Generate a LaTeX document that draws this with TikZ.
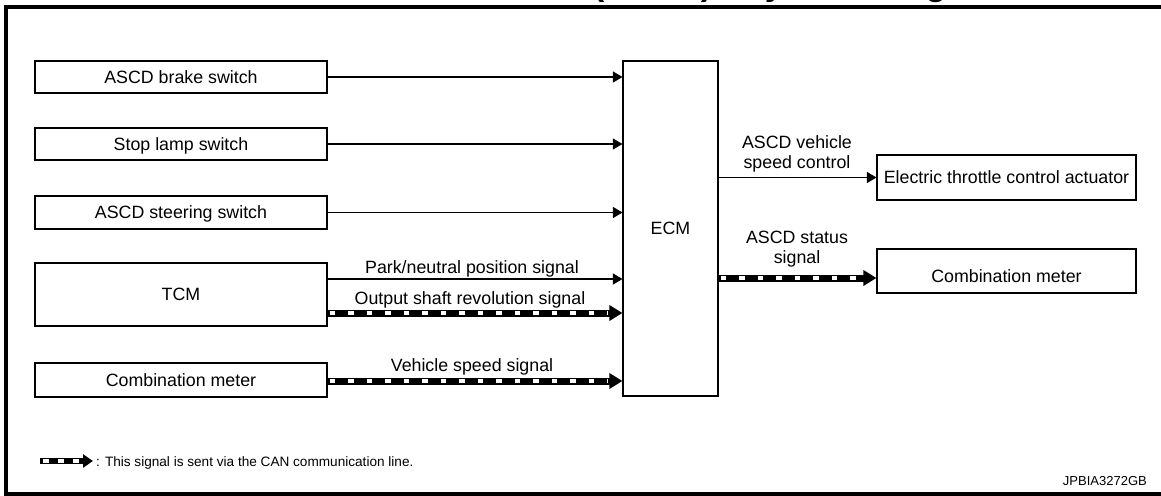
\documentclass[tikz,border=0pt]{standalone}
\usepackage{fontspec}
\setmainfont{Liberation Sans}
\usetikzlibrary{arrows.meta}
\begin{document}
\begin{tikzpicture}[x=1pt,y=-1pt,
  box/.style={draw, line width=1.1pt, rectangle, inner sep=0pt,
    font=\fontsize{17.8}{20}\selectfont, text height=12.8pt, text depth=0pt},
  lbl/.style={inner sep=0pt, font=\fontsize{17.8}{20}\selectfont,
    text height=12.8pt, text depth=0pt},
  sig/.style={line width=1.1pt, -{Triangle[length=9.5pt,width=11pt]}},
  canblack/.style={line width=7pt, -{Triangle[length=13pt,width=15pt]}},
  canwhite/.style={white, line width=3.6pt, dash pattern=on 5.5pt off 13pt,
    shorten <=2pt, shorten >=15pt},
  frame/.style={line width=4pt}
]
\useasboundingbox (0,0) rectangle (1161,495);
\begin{scope}
\clip (0,0) rectangle (1161,495);
\node[anchor=base east, inner sep=0pt, font=\fontsize{34}{40}\selectfont\bfseries]
  (title) at (1009,-4.5) {AUTOMATIC SPEED CONTROL DEVICE (ASCD) : System Diagram};
\draw[frame] (1170,7) -- (6,7) -- (6,493.5) -- (1170,493.5);
\end{scope}

% left boxes
\node[box, minimum width=292pt, minimum height=32pt] (brake) at (181,77) {ASCD brake switch};
\node[box, minimum width=292pt, minimum height=32pt] (stop) at (181,144) {Stop lamp switch};
\node[box, minimum width=292pt, minimum height=33pt] (steer) at (181,212.5) {ASCD steering switch};
\node[box, minimum width=292pt, minimum height=63pt] (tcm) at (181,294.5) {TCM};
\node[box, minimum width=292pt, minimum height=34pt] (cmin) at (181,380) {Combination meter};

% ECM
\node[box, minimum width=95pt, minimum height=335pt] (ecm) at (670.5,228.5) {ECM};

% right boxes
\node[box, minimum width=259pt, minimum height=45pt] (etc) at (1006.5,177.5) {Electric throttle control actuator};
\node[box, minimum width=259pt, minimum height=44pt,
  label={[lbl, yshift=-5pt]center:Combination meter}] (cmout) at (1006.5,271) {};

% inputs
\draw[sig] (brake.east) -- (ecm.west |- brake.east);
\draw[sig] (stop.east) -- (ecm.west |- stop.east);
\draw[sig] (steer.east) -- (ecm.west |- steer.east);
\draw[sig] (tcm.east |- 0,279) -- (ecm.west |- 0,279);
\draw[canblack] (tcm.east |- 0,313) -- (ecm.west |- 0,313);
\draw[canwhite] (tcm.east |- 0,313) -- (ecm.west |- 0,313);
\draw[canblack] (cmin.east |- 0,381) -- (ecm.west |- 0,381);
\draw[canwhite] (cmin.east |- 0,381) -- (ecm.west |- 0,381);

\node[lbl] (l1) at (472,267) {Park/neutral position signal};
\node[lbl] (l2) at (470,298) {Output shaft revolution signal};
\node[lbl] (l3) at (472,365) {Vehicle speed signal};

% outputs
\draw[sig] (ecm.east |- etc.west) -- (etc.west);
\draw[canblack] (ecm.east |- 0,278) -- (cmout.west |- 0,278);
\draw[canwhite] (ecm.east |- 0,278) -- (cmout.west |- 0,278);

\node[lbl] (l4a) at (797,142) {ASCD vehicle};
\node[lbl] (l4b) at (797,162) {speed control};
\node[lbl] (l5a) at (797,237) {ASCD status};
\node[lbl] (l5b) at (797,257) {signal};

% legend
\coordinate (lg1) at (40,461);
\coordinate (lg2) at (93,461);
\draw[line width=6.5pt, -{Triangle[length=10pt,width=13pt]}] (lg1) -- (lg2);
\draw[white, line width=3.2pt, dash pattern=on 6pt off 9pt, shorten <=3pt, shorten >=12pt] (lg1) -- (lg2);
\node[anchor=west, inner sep=0pt, font=\fontsize{13.6}{16}\selectfont,
  text height=9.8pt, text depth=0pt] (legend) at (96,462)
  {: This signal is sent via the CAN communication line.};
\node[anchor=east, inner sep=0pt, font=\fontsize{13}{15}\selectfont,
  text height=9.4pt, text depth=0pt] (code) at (1147,481) {JPBIA3272GB};
\end{tikzpicture}
\end{document}
